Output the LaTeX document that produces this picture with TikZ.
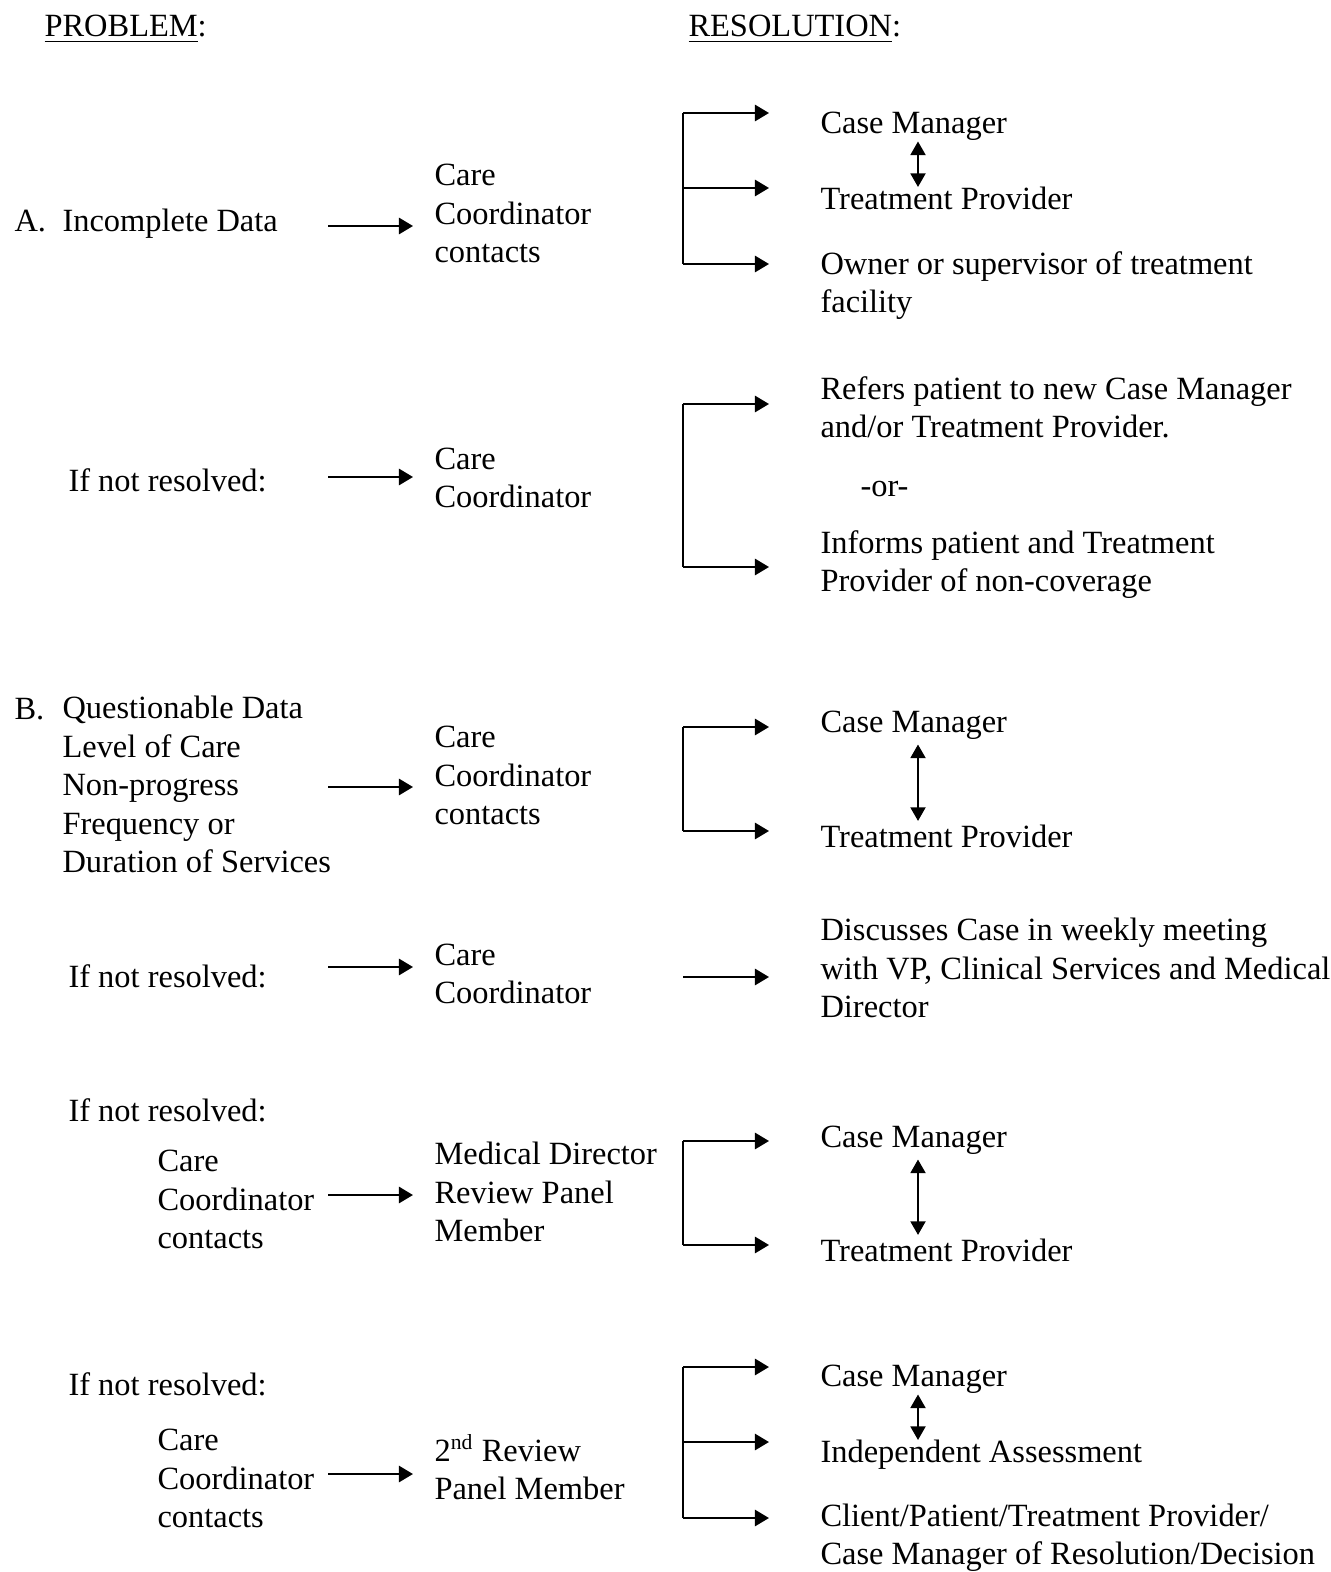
\documentclass[tikz,border=0pt]{standalone}
\usepackage{fontspec}
\setmainfont{Liberation Serif}
\usetikzlibrary{arrows.meta}
\tikzset{
  txt/.style={anchor=base west,inner sep=0pt,yshift=-1.1pt,align=left,font=\fontsize{12}{14.25}\selectfont},
  arr/.style={line width=0.8pt,-{Triangle[length=5.2pt,width=6pt]}},
  dbl/.style={line width=0.5pt,{Triangle[length=5pt,width=5.6pt]}-{Triangle[length=5pt,width=5.6pt]}},
  brk/.style={line width=0.8pt}
}
\begin{document}
\begin{tikzpicture}[x=0.37pt,y=-0.37pt]
    \useasboundingbox (0,0) rectangle (1330,1572);

    % headings
    \node[txt] (hprob) at (44,34) {\underline{PROBLEM}:};
    \node[txt] (hres) at (688,34) {\underline{RESOLUTION}:};

    % A. incomplete data (multi-line nodes sit on their last baseline)
    \node[txt] (la) at (14,229) {A.};
    \node[txt] (pa) at (62,229) {Incomplete Data};
    \node[txt] (ca) at (434,260) {Care\\Coordinator\\contacts};
    \node[txt] (ra1) at (820,131) {Case Manager};
    \node[txt] (ra2) at (820,207) {Treatment Provider};
    \node[txt] (ra3) at (820,310) {Owner or supervisor of treatment\\facility};
    \draw[dbl] (918,0 |- ra1.south) -- (918,0 |- ra2.north);

    % A. if not resolved
    \node[txt] (pa2) at (68,489) {If not resolved:};
    \node[txt] (ca2) at (434,505) {Care\\Coordinator};
    \node[txt] (ra4) at (820,435) {Refers patient to new Case Manager\\and/or Treatment Provider.};
    \node[txt] (ror) at (860,494) {-or-};
    \node[txt] (ra5) at (820,589) {Informs patient and Treatment\\Provider of non-coverage};

    % B. questionable data
    \node[txt] (lb) at (14,717) {B.};
    \node[txt] (pb) at (62,870) {Questionable Data\\Level of Care\\Non-progress\\Frequency or\\Duration of Services};
    \node[txt] (cb) at (434,822) {Care\\Coordinator\\contacts};
    \node[txt] (rb1) at (820,730) {Case Manager};
    \node[txt] (rb2) at (820,845) {Treatment Provider};
    \draw[dbl] ([yshift=-1.5pt]918,0 |- rb1.south) -- ([yshift=1.5pt]918,0 |- rb2.north);

    \node[txt] (pb2) at (68,985) {If not resolved:};
    \node[txt] (cb2) at (434,1001) {Care\\Coordinator};
    \node[txt] (rb3) at (820,1015) {Discusses Case in weekly meeting\\with VP, Clinical Services and Medical\\Director};

    \node[txt] (pb3) at (68,1119) {If not resolved:};
    \node[txt] (cb3) at (157,1246) {Care\\Coordinator\\contacts};
    \node[txt] (mb3) at (434,1239) {Medical Director\\Review Panel\\Member};
    \node[txt] (rb4) at (820,1145) {Case Manager};
    \node[txt] (rb5) at (820,1259) {Treatment Provider};
    \draw[dbl] ([yshift=-1.5pt]918,0 |- rb4.south) -- ([yshift=1.5pt]918,0 |- rb5.north);

    \node[txt] (pb4) at (68,1393) {If not resolved:};
    \node[txt] (cb4) at (157,1525) {Care\\Coordinator\\contacts};
    \node[txt] (mb4) at (434,1497) {2\textsuperscript{nd} Review\\Panel Member};
    \node[txt] (rb6) at (820,1384) {Case Manager};
    \node[txt] (rb7) at (820,1460) {Independent Assessment};
    \node[txt] (rb8) at (820,1562) {Client/Patient/Treatment Provider/\\Case Manager of Resolution/Decision};
    \draw[dbl] (918,0 |- rb6.south) -- (918,0 |- rb7.north);

    % problem -> coordinator arrows
    \foreach \n/\y in {a/226,b/477,c/787,d/967,e/1195,f/1474}{
      \coordinate (s\n) at (328,\y);
      \coordinate (e\n) at (413,\y);
      \draw[arr] (s\n) -- (e\n);
    }

    % resolution brackets
    \foreach \n/\t/\b in {a/113/264,b/404/567,c/727/831,d/1141/1245,e/1367/1518}{
      \coordinate (bt\n) at (683,\t);
      \coordinate (bb\n) at (683,\b);
      \draw[brk] (bt\n) -- (bb\n);
      \draw[arr] (bt\n) -- (bt\n -| 769,0);
      \draw[arr] (bb\n) -- (bb\n -| 769,0);
    }
    \coordinate (bma) at (683,188);
    \coordinate (bme) at (683,1442);
    \coordinate (bsd) at (683,977);
    \draw[arr] (bma) -- (bma -| 769,0);
    \draw[arr] (bme) -- (bme -| 769,0);
    \draw[arr] (bsd) -- (bsd -| 769,0);

\end{tikzpicture}
\end{document}
